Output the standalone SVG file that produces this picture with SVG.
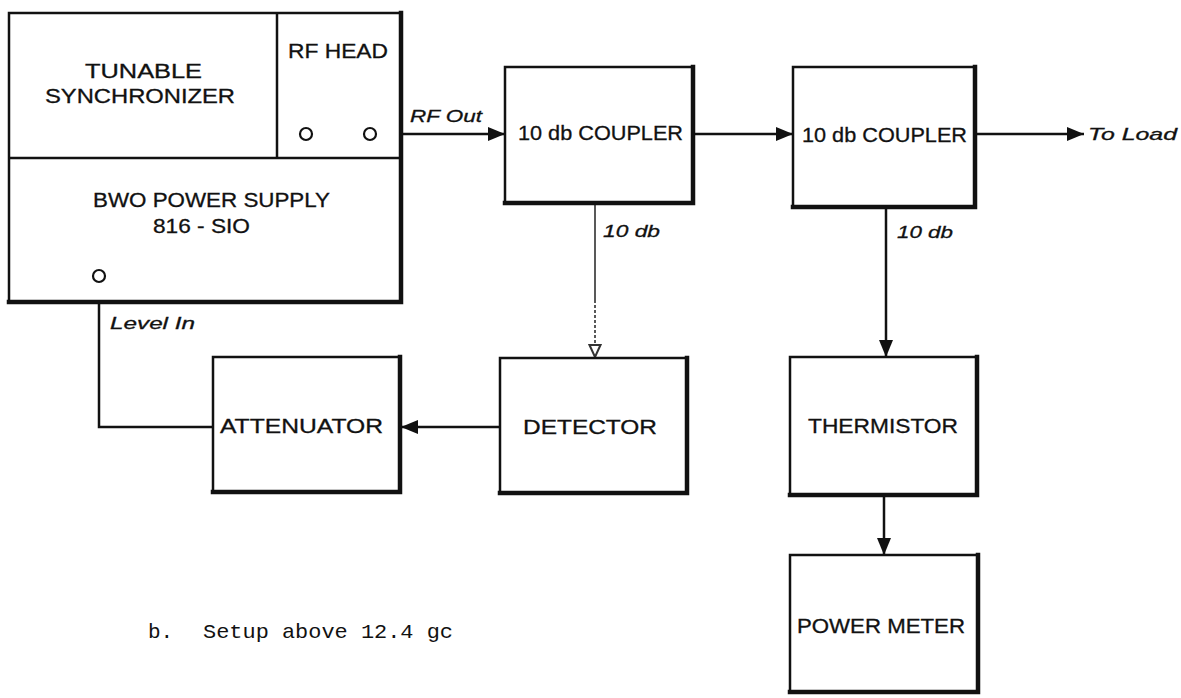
<svg xmlns="http://www.w3.org/2000/svg" width="1181" height="698" viewBox="0 0 1181 698">
<style>
.box{fill:#fff;stroke:#111;stroke-width:2.5}
.edge{fill:none;stroke:#111;stroke-width:4.5;stroke-linecap:square}
.div{fill:none;stroke:#111;stroke-width:2.5}
.lbl{font-family:"Liberation Sans",Arial,sans-serif;font-size:20px;fill:#111;text-anchor:start;stroke:#111;stroke-width:0.3}
.it{font-family:"Liberation Sans",Arial,sans-serif;font-size:17px;font-style:italic;fill:#111;stroke:#111;stroke-width:0.3}
.wire{fill:none;stroke:#111;stroke-width:2.5}
.thin{fill:none;stroke:#222;stroke-width:1.5}
.port{fill:#fff;stroke:#111;stroke-width:2.2}
.cap{font-family:"Liberation Mono","Courier New",monospace;font-size:21px;fill:#111}
</style>
<defs>
<marker id="arr" markerUnits="userSpaceOnUse" markerWidth="18" markerHeight="16" refX="17" refY="8" orient="auto">
<path d="M0,1 L17,8 L0,15 Z" fill="#111"/>
</marker>
<marker id="arrs" markerUnits="userSpaceOnUse" markerWidth="14" markerHeight="14" refX="13" refY="7" orient="auto">
<path d="M1,1.5 L13,7 L1,12.5 Z" fill="#fff" stroke="#333" stroke-width="2"/>
</marker>
</defs>
<rect width="1181" height="698" fill="#fff"/>

<g id="connectors">
<line class="wire" x1="376" y1="134" x2="505" y2="134" marker-end="url(#arr)"/>
<line class="wire" x1="693" y1="134" x2="793" y2="134" marker-end="url(#arr)"/>
<line class="wire" x1="975" y1="134" x2="1084" y2="134" marker-end="url(#arr)"/>
<line class="thin" x1="595" y1="203" x2="595" y2="300"/>
<line class="thin" x1="595" y1="300" x2="595" y2="357" stroke-dasharray="3 2" marker-end="url(#arrs)"/>
<line class="wire" x1="886" y1="207" x2="886" y2="357" marker-end="url(#arr)"/>
<line class="wire" x1="500" y1="427" x2="401" y2="427" marker-end="url(#arr)"/>
<polyline class="div" points="213,427 99,427 99,282"/>
<line class="wire" x1="884" y1="495" x2="884" y2="555" marker-end="url(#arr)"/>
<text class="it" x="410" y="122" textLength="72" lengthAdjust="spacingAndGlyphs">RF Out</text>
<text class="it" x="603" y="237" textLength="57" lengthAdjust="spacingAndGlyphs">10 db</text>
<text class="it" x="897" y="238" textLength="56" lengthAdjust="spacingAndGlyphs">10 db</text>
<text class="it" x="1088" y="140" textLength="89" lengthAdjust="spacingAndGlyphs">To Load</text>
<text class="it" x="110" y="329" textLength="85" lengthAdjust="spacingAndGlyphs">Level In</text>
</g>

<g id="bwo-unit">
<rect class="box" x="9" y="13" width="392" height="289"/>
<path class="edge" d="M401,13 V302 H9"/>
<line class="div" x1="9" y1="158" x2="401" y2="158"/>
<line class="div" x1="277" y1="13" x2="277" y2="158"/>
<g id="tunable-synchronizer">
<text class="lbl" x="85" y="78" textLength="117" lengthAdjust="spacingAndGlyphs">TUNABLE</text>
<text class="lbl" x="45" y="103" textLength="190" lengthAdjust="spacingAndGlyphs">SYNCHRONIZER</text>
</g>
<g id="rf-head">
<text class="lbl" x="288" y="58" textLength="100" lengthAdjust="spacingAndGlyphs">RF HEAD</text>
<circle class="port" cx="306" cy="134" r="6"/>
<circle class="port" cx="370" cy="134" r="6"/>
</g>
<g id="bwo-power-supply">
<text class="lbl" x="93" y="207" font-size="19" textLength="237" lengthAdjust="spacingAndGlyphs">BWO POWER SUPPLY</text>
<text class="lbl" x="153" y="233" font-size="19" textLength="97" lengthAdjust="spacingAndGlyphs">816 - SIO</text>
<circle class="port" cx="99" cy="276" r="6"/>
</g>
</g>

<g id="coupler1">
<rect class="box" x="505" y="67" width="188" height="136"/>
<path class="edge" d="M693,67 V203 H505"/>
<text class="lbl" x="518" y="140" font-size="19" textLength="165" lengthAdjust="spacingAndGlyphs">10 db COUPLER</text>
</g>

<g id="coupler2">
<rect class="box" x="793" y="67" width="182" height="140"/>
<path class="edge" d="M975,67 V207 H793"/>
<text class="lbl" x="802" y="142" font-size="19" textLength="165" lengthAdjust="spacingAndGlyphs">10 db COUPLER</text>
</g>

<g id="attenuator">
<rect class="box" x="213" y="357" width="187" height="135"/>
<path class="edge" d="M400,357 V492 H213"/>
<text class="lbl" x="220" y="433" font-size="21" textLength="163" lengthAdjust="spacingAndGlyphs">ATTENUATOR</text>
</g>

<g id="detector">
<rect class="box" x="500" y="358" width="187" height="135"/>
<path class="edge" d="M687,358 V493 H500"/>
<text class="lbl" x="523" y="434" font-size="21" textLength="134" lengthAdjust="spacingAndGlyphs">DETECTOR</text>
</g>

<g id="thermistor">
<rect class="box" x="790" y="357" width="187" height="138"/>
<path class="edge" d="M977,357 V495 H790"/>
<text class="lbl" x="808" y="433" textLength="150" lengthAdjust="spacingAndGlyphs">THERMISTOR</text>
</g>

<g id="power-meter">
<rect class="box" x="790" y="555" width="188" height="137"/>
<path class="edge" d="M978,555 V692 H790"/>
<text class="lbl" x="797" y="633" textLength="168" lengthAdjust="spacingAndGlyphs">POWER METER</text>
</g>

<text class="cap" y="638"><tspan x="148">b.</tspan><tspan x="203" textLength="250" lengthAdjust="spacingAndGlyphs">Setup above 12.4 gc</tspan></text>
</svg>
